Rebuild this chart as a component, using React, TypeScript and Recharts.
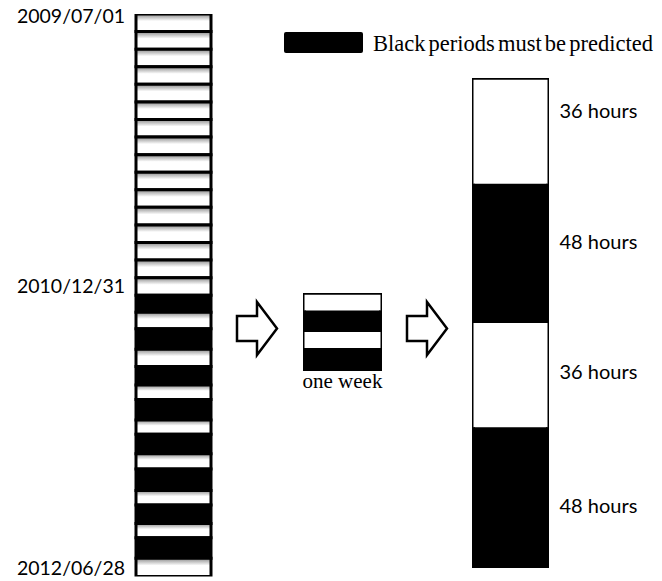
import { BarChart, Bar, XAxis, YAxis } from "recharts";

// left column: 16 cells before 2010/12/31, then 8 black/white pairs
const trainCells = [1, 1, 1, 1, 1, 1, 1, 1, 1, 1, 1, 1, 1, 1, 1, 1];
const testBlack = [0.97, 1.16, 1.05, 1.16, 1.1, 1.22, 1.05, 1.16];
const testWhite = [0.94, 0.99, 0.82, 0.82, 0.88, 0.82, 0.82, 1.04];
const dateLabels = ["2009/07/01", "2010/12/31", "2012/06/28"];
const dateTicks = [0.1, 15.5, 31.5];

// one week = 36h known, 48h predicted, 36h known, 48h predicted
const weekHours = [36, 48, 36, 48];
const weekBlack = [false, true, false, true];
const hourLabels = ["36 hours", "48 hours", "36 hours", "48 hours"];
const hourTicks = [11, 56, 101, 147];

const legendText = "Black periods must be predicted";
const weekLabel = "one week";

type Seg = { size: number; black: boolean };

const leftSegs: Seg[] = [
  ...trainCells.map((size) => ({ size, black: false })),
  ...testBlack.flatMap((b, i) => [
    { size: b, black: true },
    { size: testWhite[i], black: false },
  ]),
];
const weekSegs: Seg[] = weekHours.map((size, i) => ({ size, black: weekBlack[i] }));

const toRow = (name: string, segs: Seg[]) => {
  const row: Record<string, number | string> = { name };
  segs.forEach((s, i) => {
    row[`s${i}`] = s.size;
  });
  return row;
};

const total = (segs: Seg[]) => segs.reduce((a, s) => a + s.size, 0);

const sans = "Lato, 'Open Sans', sans-serif";
const serif = "'Liberation Serif', 'Times New Roman', serif";

// cells with their own black outline (left column)
const cellBars = (segs: Seg[]) =>
  segs.map((s, i) => (
    <Bar
      key={i}
      dataKey={`s${i}`}
      stackId="col"
      fill={s.black ? "#000" : "url(#cellShade)"}
      stroke="#000"
      strokeWidth={3}
      isAnimationActive={false}
    />
  ));

// plain blocks with one frame round the whole column (week views)
const blockBars = (segs: Seg[]) =>
  segs.map((s, i) => (
    <Bar
      key={i}
      dataKey={`s${i}`}
      stackId="col"
      fill={s.black ? "#000" : "#fff"}
      background={
        i === segs.length - 1 ? { fill: "none", stroke: "#000", strokeWidth: 3 } : false
      }
      isAnimationActive={false}
    />
  ));

const arrow = (x: number) =>
  `M${x},316 H${x + 20} V302 L${x + 40},328.5 L${x + 20},355 V341 H${x} Z`;

export default function App() {
  return (
    <div style={{ position: "absolute", left: 0, top: 0, width: 662, height: 581, background: "#fff" }}>
      <div style={{ position: "absolute", left: 0, top: 0 }}>
        <BarChart
          width={215}
          height={581}
          data={[toRow("all", leftSegs)]}
          margin={{ top: 14, right: 4.5, bottom: 4.5, left: 0 }}
          barCategoryGap={0}
          barGap={0}
        >
          <defs>
            <linearGradient id="cellShade" x1="0" y1="0" x2="0" y2="1">
              <stop offset="0" stopColor="#8a8a8a" />
              <stop offset="0.4" stopColor="#ffffff" />
              <stop offset="1" stopColor="#ffffff" />
            </linearGradient>
          </defs>
          <XAxis dataKey="name" hide />
          <YAxis
            type="number"
            domain={[0, total(leftSegs)]}
            allowDataOverflow
            reversed
            ticks={dateTicks}
            interval={0}
            width={136}
            tickLine={false}
            axisLine={false}
            tickMargin={5}
            tickFormatter={(v: number) => dateLabels[dateTicks.indexOf(v)] ?? ""}
            tick={{ fill: "#000", fontSize: 19.5, fontFamily: sans }}
          />
          {cellBars(leftSegs)}
        </BarChart>
      </div>

      <div style={{ position: "absolute", left: 300, top: 290 }}>
        <BarChart
          width={85}
          height={110}
          data={[toRow(weekLabel, weekSegs)]}
          margin={{ top: 4.5, right: 4.5, bottom: 0.5, left: 4.5 }}
          barCategoryGap={0}
          barGap={0}
        >
          <XAxis
            dataKey="name"
            height={30}
            tickLine={false}
            axisLine={false}
            tickSize={0}
            tickMargin={4}
            interval={0}
            tick={{ fill: "#000", fontSize: 21, fontFamily: serif }}
          />
          <YAxis type="number" domain={[0, total(weekSegs)]} allowDataOverflow reversed hide />
          {blockBars(weekSegs)}
        </BarChart>
      </div>

      <div style={{ position: "absolute", left: 460, top: 70 }}>
        <BarChart
          width={202}
          height={510}
          data={[toRow("week", weekSegs)]}
          margin={{ top: 9.5, right: 0, bottom: 13.5, left: 13.5 }}
          barCategoryGap={0}
          barGap={0}
        >
          <XAxis dataKey="name" hide />
          <YAxis
            type="number"
            orientation="right"
            domain={[0, total(weekSegs)]}
            allowDataOverflow
            reversed
            ticks={hourTicks}
            interval={0}
            width={114.5}
            tickLine={false}
            axisLine={false}
            tickMargin={6}
            tickFormatter={(v: number) => hourLabels[hourTicks.indexOf(v)] ?? ""}
            tick={{ fill: "#000", fontSize: 20, fontFamily: sans }}
          />
          {blockBars(weekSegs)}
        </BarChart>
      </div>

      <svg
        width={662}
        height={581}
        style={{ position: "absolute", left: 0, top: 0, pointerEvents: "none" }}
      >
        <rect x={284} y={32} width={79} height={21} rx={2} fill="#000" />
        <text x={373} y={51} fontFamily={serif} fontSize={22.5} wordSpacing={-2.5} fill="#000">
          {legendText}
        </text>
        <path d={arrow(237)} fill="#fff" stroke="#000" strokeWidth={2.5} />
        <path d={arrow(407)} fill="#fff" stroke="#000" strokeWidth={2.5} />
      </svg>
    </div>
  );
}
